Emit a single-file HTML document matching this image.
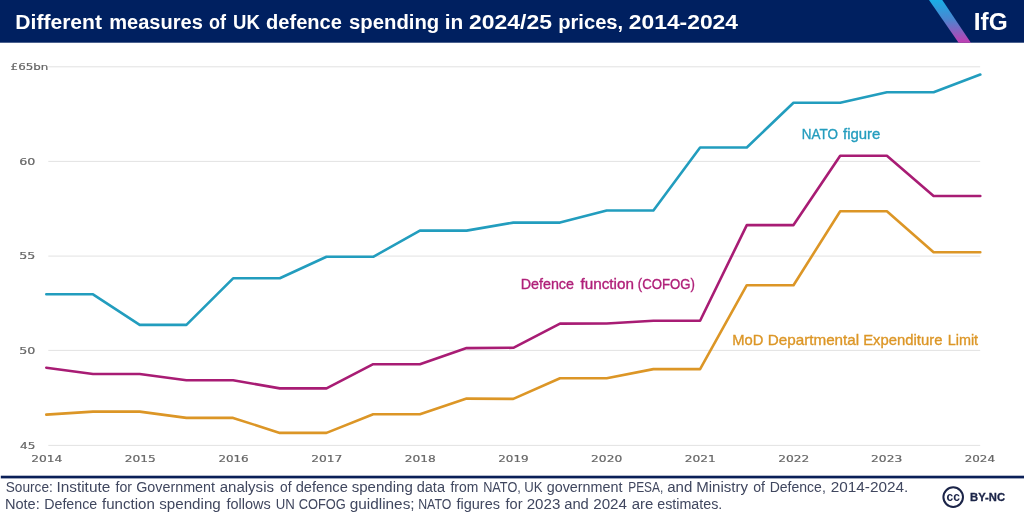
<!DOCTYPE html>
<html lang="en"><head><meta charset="utf-8"><title>Different measures of UK defence spending</title>
<style>
html,body{margin:0;padding:0;background:#fff;}
body{width:1024px;height:515px;overflow:hidden;font-family:"Liberation Sans",sans-serif;}
svg{display:block;}
.t{font-family:"Liberation Sans",sans-serif;}
.ax{font-family:"DejaVu Sans","Liberation Sans",sans-serif;fill:#666;stroke:#666;stroke-width:0.2px;}
</style></head><body>
<svg width="1024" height="515" viewBox="0 0 1024 515">
<defs>
<linearGradient id="g" x1="0" y1="0" x2="0" y2="1"><stop offset="0" stop-color="#18aee6"/><stop offset="0.45" stop-color="#4a86d0"/><stop offset="1" stop-color="#c23db2"/></linearGradient>
</defs>
<rect x="0" y="0" width="1024" height="515" fill="#ffffff"/>
<rect x="0" y="0" width="1024" height="42.7" fill="#002060"/>
<polygon points="929,0 942.3,0 970.9,42.7 958.6,42.7" fill="url(#g)"/>
<text class="t" y="28.8" font-size="20.3" font-weight="700" fill="#ffffff"><tspan x="15.3" textLength="86.7" lengthAdjust="spacingAndGlyphs">Different</tspan> <tspan x="109.3" textLength="93.5" lengthAdjust="spacingAndGlyphs">measures</tspan> <tspan x="209.1" textLength="17.0" lengthAdjust="spacingAndGlyphs">of</tspan> <tspan x="233.1" textLength="26.8" lengthAdjust="spacingAndGlyphs">UK</tspan> <tspan x="266.1" textLength="75.8" lengthAdjust="spacingAndGlyphs">defence</tspan> <tspan x="349.1" textLength="90.1" lengthAdjust="spacingAndGlyphs">spending</tspan> <tspan x="444.7" textLength="18.5" lengthAdjust="spacingAndGlyphs">in</tspan> <tspan x="469.1" textLength="82.8" lengthAdjust="spacingAndGlyphs">2024/25</tspan> <tspan x="558.2" textLength="65.0" lengthAdjust="spacingAndGlyphs">prices,</tspan> <tspan x="628.8" textLength="109.2" lengthAdjust="spacingAndGlyphs">2014-2024</tspan></text>
<text class="t" y="30.2" font-size="24.8" font-weight="700" fill="#ffffff"><tspan x="973.8" textLength="33.9" lengthAdjust="spacingAndGlyphs">IfG</tspan></text>
<line x1="48.3" x2="980.2" y1="66.8" y2="66.8" stroke="#e2e2e2" stroke-width="1"/>
<text class="ax" y="70.3" font-size="9.2" fill="#6a6a6a"><tspan x="10.6" textLength="37.7" lengthAdjust="spacingAndGlyphs">£65bn</tspan></text>
<line x1="48.3" x2="980.2" y1="161.4" y2="161.4" stroke="#e2e2e2" stroke-width="1"/>
<text class="ax" y="164.6" font-size="9.0" fill="#6a6a6a"><tspan x="19.2" textLength="16.1" lengthAdjust="spacingAndGlyphs">60</tspan></text>
<line x1="48.3" x2="980.2" y1="256.1" y2="256.1" stroke="#e2e2e2" stroke-width="1"/>
<text class="ax" y="259.2" font-size="9.0" fill="#6a6a6a"><tspan x="19.2" textLength="16.1" lengthAdjust="spacingAndGlyphs">55</tspan></text>
<line x1="48.3" x2="980.2" y1="350.4" y2="350.4" stroke="#e2e2e2" stroke-width="1"/>
<text class="ax" y="353.5" font-size="9.0" fill="#6a6a6a"><tspan x="19.2" textLength="16.1" lengthAdjust="spacingAndGlyphs">50</tspan></text>
<line x1="48.3" x2="980.2" y1="445.4" y2="445.4" stroke="#e2e2e2" stroke-width="1"/>
<text class="ax" y="448.5" font-size="9.0" fill="#6a6a6a"><tspan x="20.0" textLength="15.3" lengthAdjust="spacingAndGlyphs">45</tspan></text>
<text class="ax" y="462.1" font-size="9.4" fill="#6a6a6a"><tspan x="31.2" textLength="31.1" lengthAdjust="spacingAndGlyphs">2014</tspan> <tspan x="124.8" textLength="31.1" lengthAdjust="spacingAndGlyphs">2015</tspan> <tspan x="218.4" textLength="30.3" lengthAdjust="spacingAndGlyphs">2016</tspan> <tspan x="311.2" textLength="31.1" lengthAdjust="spacingAndGlyphs">2017</tspan> <tspan x="404.7" textLength="31.1" lengthAdjust="spacingAndGlyphs">2018</tspan> <tspan x="498.3" textLength="30.3" lengthAdjust="spacingAndGlyphs">2019</tspan> <tspan x="591.1" textLength="31.1" lengthAdjust="spacingAndGlyphs">2020</tspan> <tspan x="684.7" textLength="31.1" lengthAdjust="spacingAndGlyphs">2021</tspan> <tspan x="778.3" textLength="31.1" lengthAdjust="spacingAndGlyphs">2022</tspan> <tspan x="871.1" textLength="31.1" lengthAdjust="spacingAndGlyphs">2023</tspan> <tspan x="964.7" textLength="30.3" lengthAdjust="spacingAndGlyphs">2024</tspan></text>
<polyline fill="none" stroke="#dc9626" stroke-width="2.6" stroke-linejoin="round" stroke-linecap="round" points="46.3,414.6 93.0,411.6 139.7,411.6 186.4,417.9 233.1,417.9 279.8,432.9 326.5,432.9 373.2,414.2 419.9,414.2 466.6,398.6 513.3,398.9 560.0,378.2 606.7,378.2 653.4,369.1 700.1,369.1 746.8,285.2 793.5,285.2 840.2,211.3 886.9,211.3 933.6,252.2 980.3,252.2"/>
<polyline fill="none" stroke="#a81c74" stroke-width="2.6" stroke-linejoin="round" stroke-linecap="round" points="46.3,367.7 93.0,374.0 139.7,374.0 186.4,380.2 233.1,380.2 279.8,388.4 326.5,388.4 373.2,364.2 419.9,364.2 466.6,348.1 513.3,347.8 560.0,323.6 606.7,323.5 653.4,320.8 700.1,320.8 746.8,225.1 793.5,225.1 840.2,155.8 886.9,155.8 933.6,196.0 980.3,196.0"/>
<polyline fill="none" stroke="#229dbe" stroke-width="2.6" stroke-linejoin="round" stroke-linecap="round" points="46.3,294.3 93.0,294.3 139.7,324.9 186.4,324.9 233.1,278.3 279.8,278.3 326.5,256.8 373.2,256.8 419.9,230.6 466.6,230.6 513.3,222.6 560.0,222.6 606.7,210.5 653.4,210.5 700.1,147.5 746.8,147.5 793.5,102.7 840.2,102.7 886.9,92.2 933.6,92.2 980.3,74.5"/>
<text class="t" y="138.9" font-size="15" stroke="#249dbe" stroke-width="0.35" fill="#249dbe"><tspan x="801.7" textLength="36.2" lengthAdjust="spacingAndGlyphs">NATO</tspan> <tspan x="843.0" textLength="37.4" lengthAdjust="spacingAndGlyphs">figure</tspan></text>
<text class="t" y="288.6" font-size="15" stroke="#b02079" stroke-width="0.35" fill="#b02079"><tspan x="520.7" textLength="53.3" lengthAdjust="spacingAndGlyphs">Defence</tspan> <tspan x="580.5" textLength="53.4" lengthAdjust="spacingAndGlyphs">function</tspan> <tspan x="637.8" textLength="57.1" lengthAdjust="spacingAndGlyphs">(COFOG)</tspan></text>
<text class="t" y="344.7" font-size="15" stroke="#dc9626" stroke-width="0.35" fill="#dc9626"><tspan x="732.3" textLength="31.1" lengthAdjust="spacingAndGlyphs">MoD</tspan> <tspan x="767.7" textLength="91.5" lengthAdjust="spacingAndGlyphs">Departmental</tspan> <tspan x="863.2" textLength="79.2" lengthAdjust="spacingAndGlyphs">Expenditure</tspan> <tspan x="947.7" textLength="30.4" lengthAdjust="spacingAndGlyphs">Limit</tspan></text>
<rect x="0.8" y="475.7" width="1023.2" height="2.7" fill="#0a1f58"/>
<text class="t" y="491.9" font-size="15.4" fill="#40475f"><tspan x="5.7" textLength="47.1" lengthAdjust="spacingAndGlyphs">Source:</tspan> <tspan x="56.4" textLength="53.9" lengthAdjust="spacingAndGlyphs">Institute</tspan> <tspan x="115.5" textLength="16.5" lengthAdjust="spacingAndGlyphs">for</tspan> <tspan x="136.2" textLength="78.8" lengthAdjust="spacingAndGlyphs">Government</tspan> <tspan x="219.7" textLength="54.3" lengthAdjust="spacingAndGlyphs">analysis</tspan> <tspan x="280.0" textLength="11.5" lengthAdjust="spacingAndGlyphs">of</tspan> <tspan x="295.7" textLength="52.1" lengthAdjust="spacingAndGlyphs">defence</tspan> <tspan x="351.7" textLength="61.1" lengthAdjust="spacingAndGlyphs">spending</tspan> <tspan x="416.7" textLength="28.3" lengthAdjust="spacingAndGlyphs">data</tspan> <tspan x="450.5" textLength="27.8" lengthAdjust="spacingAndGlyphs">from</tspan> <tspan x="483.2" textLength="37.6" lengthAdjust="spacingAndGlyphs">NATO,</tspan> <tspan x="524.2" textLength="18.3" lengthAdjust="spacingAndGlyphs">UK</tspan> <tspan x="546.7" textLength="75.8" lengthAdjust="spacingAndGlyphs">government</tspan> <tspan x="628.2" textLength="35.1" lengthAdjust="spacingAndGlyphs">PESA,</tspan> <tspan x="667.2" textLength="25.1" lengthAdjust="spacingAndGlyphs">and</tspan> <tspan x="696.2" textLength="51.8" lengthAdjust="spacingAndGlyphs">Ministry</tspan> <tspan x="753.2" textLength="11.8" lengthAdjust="spacingAndGlyphs">of</tspan> <tspan x="769.7" textLength="56.1" lengthAdjust="spacingAndGlyphs">Defence,</tspan> <tspan x="830.7" textLength="77.6" lengthAdjust="spacingAndGlyphs">2014-2024.</tspan></text>
<text class="t" y="509.3" font-size="15.4" fill="#40475f"><tspan x="4.9" textLength="34.9" lengthAdjust="spacingAndGlyphs">Note:</tspan> <tspan x="44.2" textLength="53.1" lengthAdjust="spacingAndGlyphs">Defence</tspan> <tspan x="102.0" textLength="52.8" lengthAdjust="spacingAndGlyphs">function</tspan> <tspan x="159.2" textLength="61.6" lengthAdjust="spacingAndGlyphs">spending</tspan> <tspan x="226.5" textLength="44.3" lengthAdjust="spacingAndGlyphs">follows</tspan> <tspan x="275.7" textLength="19.1" lengthAdjust="spacingAndGlyphs">UN</tspan> <tspan x="298.7" textLength="47.1" lengthAdjust="spacingAndGlyphs">COFOG</tspan> <tspan x="349.7" textLength="64.9" lengthAdjust="spacingAndGlyphs">guidlines;</tspan> <tspan x="418.2" textLength="33.1" lengthAdjust="spacingAndGlyphs">NATO</tspan> <tspan x="456.5" textLength="43.5" lengthAdjust="spacingAndGlyphs">figures</tspan> <tspan x="505.5" textLength="17.0" lengthAdjust="spacingAndGlyphs">for</tspan> <tspan x="526.7" textLength="33.6" lengthAdjust="spacingAndGlyphs">2023</tspan> <tspan x="564.2" textLength="24.6" lengthAdjust="spacingAndGlyphs">and</tspan> <tspan x="593.2" textLength="33.8" lengthAdjust="spacingAndGlyphs">2024</tspan> <tspan x="631.7" textLength="21.6" lengthAdjust="spacingAndGlyphs">are</tspan> <tspan x="657.2" textLength="65.1" lengthAdjust="spacingAndGlyphs">estimates.</tspan></text>
<circle cx="953.2" cy="497.1" r="9.8" fill="none" stroke="#1b2448" stroke-width="2"/>
<text class="t" y="500.5" font-size="12.5" font-weight="700" fill="#1b2448"><tspan x="946.5" textLength="13.4" lengthAdjust="spacingAndGlyphs">cc</tspan></text>
<text class="t" y="500.5" font-size="10.4" font-weight="700" stroke="#1b2448" stroke-width="0.3" fill="#1b2448"><tspan x="970.1" textLength="34.9" lengthAdjust="spacingAndGlyphs">BY-NC</tspan></text>
</svg>
</body></html>
